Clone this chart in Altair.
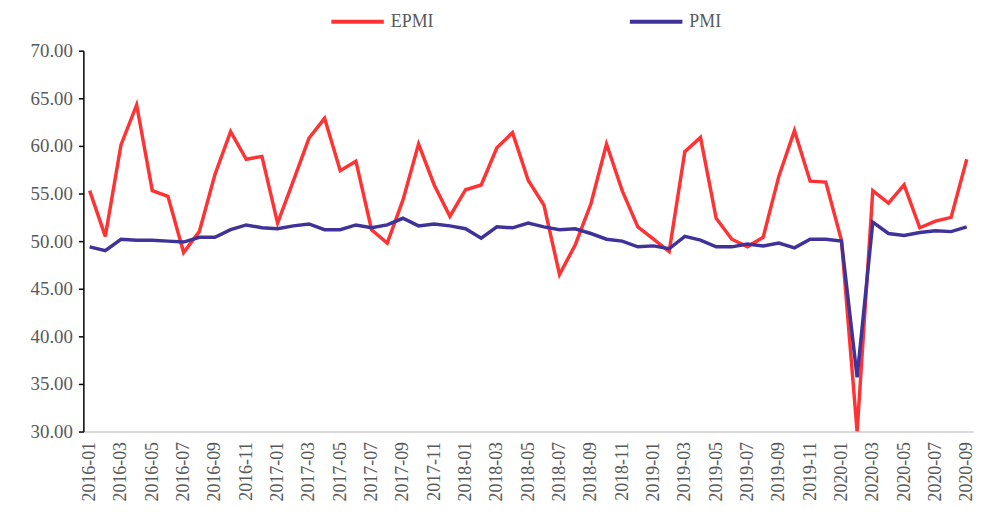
import altair as alt
import pandas as pd

months = [f"{y}-{m:02d}" for y in range(2016, 2021) for m in range(1, 13)][:57]

epmi = [55.3, 50.5, 60.1, 64.3, 55.3, 54.7, 48.8, 51.0, 57.0, 61.5, 58.6, 58.9,
        51.9, 56.3, 60.8, 62.9, 57.4, 58.4, 51.2, 49.8, 54.3, 60.2, 55.9, 52.6,
        55.4, 55.9, 59.8, 61.4, 56.4, 53.8, 46.5, 49.6, 53.9, 60.2, 55.3, 51.5,
        50.2, 48.9, 59.4, 60.9, 52.4, 50.2, 49.4, 50.4, 56.8, 61.6, 56.3, 56.2,
        50.1, 30.0, 55.3, 54.0, 55.9, 51.4, 52.1, 52.5, 58.6]

pmi = [49.4, 49.0, 50.2, 50.1, 50.1, 50.0, 49.9, 50.4, 50.4, 51.2, 51.7, 51.4,
       51.3, 51.6, 51.8, 51.2, 51.2, 51.7, 51.4, 51.7, 52.4, 51.6, 51.8, 51.6,
       51.3, 50.3, 51.5, 51.4, 51.9, 51.5, 51.2, 51.3, 50.8, 50.2, 50.0, 49.4,
       49.5, 49.2, 50.5, 50.1, 49.4, 49.4, 49.7, 49.5, 49.8, 49.3, 50.2, 50.2,
       50.0, 35.7, 52.0, 50.8, 50.6, 50.9, 51.1, 51.0, 51.5]

series_names = ["EPMI", "PMI"]
series_colors = ["#FF3333", "#3F3399"]
y_ticks = [30, 35, 40, 45, 50, 55, 60, 65, 70]
x_ticks = months[::2]

df = pd.concat([
    pd.DataFrame({"month": months, "value": epmi, "series": "EPMI"}),
    pd.DataFrame({"month": months, "value": pmi, "series": "PMI"}),
])

FONT = "Liberation Serif"
GRAY = "#595959"

chart = alt.Chart(df).mark_line(strokeWidth=3.5, clip=True).encode(
    x=alt.X("month:N", sort=months, title=None,
            scale=alt.Scale(type="point", padding=0.4),
            axis=alt.Axis(values=x_ticks, labelAngle=-90, ticks=False,
                          labelPadding=10, labelFont=FONT, labelFontSize=18,
                          labelColor=GRAY, domainColor="#D9D9D9",
                          domainWidth=2, grid=False, labelOverlap=False)),
    y=alt.Y("value:Q", title=None,
            scale=alt.Scale(domain=[30, 70], nice=False, zero=False),
            axis=alt.Axis(values=y_ticks, format=".2f", tickSize=5,
                          tickColor="#000000", tickWidth=1.5,
                          domainColor="#000000", domainWidth=1.5,
                          labelPadding=6, labelFont=FONT, labelFontSize=19,
                          labelColor=GRAY, grid=False)),
    color=alt.Color("series:N",
                    scale=alt.Scale(domain=series_names, range=series_colors),
                    legend=alt.Legend(title=None, orient="none",
                                      direction="horizontal",
                                      legendX=248, legendY=-58,
                                      symbolType="stroke", symbolSize=2800,
                                      symbolStrokeWidth=4, labelFont=FONT,
                                      labelFontSize=18, labelColor=GRAY,
                                      labelOffset=5, columnPadding=189,
                                      padding=0)),
).properties(
    width=897, height=384,
    padding={"left": 76, "top": 41, "right": 3, "bottom": 73},
    autosize=alt.AutoSizeParams(type="none"),
).configure_view(stroke=None)

chart.save("out.html", embed_options={"renderer": "svg", "actions": False})
